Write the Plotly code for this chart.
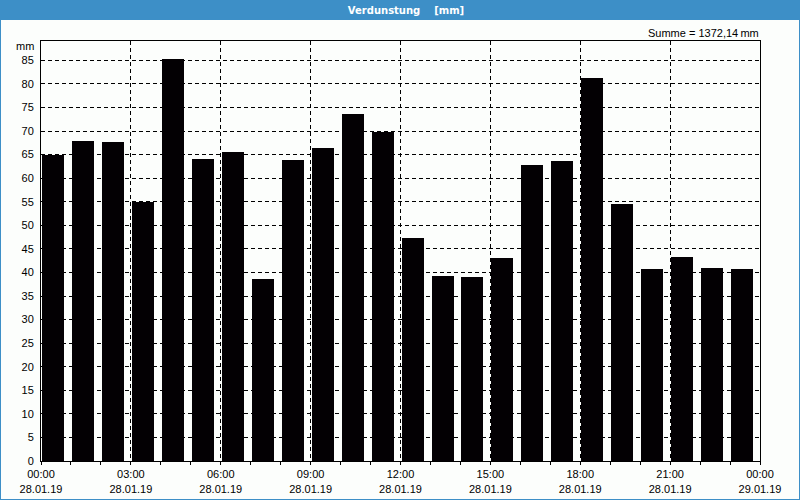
import plotly.graph_objects as go

# Data (hourly evaporation values, 28.01.19)
hours = list(range(24))
values = [64.85, 67.8, 67.6, 54.9, 85.2, 64.0, 65.5, 38.6, 63.8, 66.5, 73.7, 69.9,
          47.25, 39.3, 39.0, 43.0, 62.9, 63.6, 81.3, 54.6, 40.7, 43.3, 40.9, 40.7]
tick_hours = [0, 3, 6, 9, 12, 15, 18, 21, 24]
tick_times = ["00:00", "03:00", "06:00", "09:00", "12:00", "15:00", "18:00", "21:00", "00:00"]
tick_dates = ["28.01.19"] * 8 + ["29.01.19"]
y_ticks = list(range(0, 90, 5))
title_text = "Verdunstung\u00a0\u00a0\u00a0\u00a0[mm]"
sum_text = "Summe = 1372,14\u2009mm"

W, H = 800, 500
ml, mr, mt, mb = 41, 40, 41, 39
pw, ph = W - ml - mr, H - mt - mb
BLUE = "#3d8fc7"
BG = "#fcfefc"
FONT = "Liberation Sans, Arial, sans-serif"

fig = go.Figure()
fig.add_trace(go.Bar(
    x=hours, y=values, offset=0.035, width=0.735,
    marker=dict(color="#030003", line=dict(width=0)),
    hoverinfo="skip",
))

fig.update_layout(
    width=W, height=H, autosize=False,
    margin=dict(l=ml, r=mr, t=mt, b=mb, pad=0, autoexpand=False),
    paper_bgcolor=BG, plot_bgcolor=BG,
    showlegend=False,
    font=dict(family=FONT, size=11, color="#000000"),
    bargap=0,
    title=dict(text="<b>" + title_text + "</b>", x=406 / W, xref="container", xanchor="center",
               y=1 - 10.5 / H, yref="container", yanchor="middle",
               font=dict(family="DejaVu Sans, sans-serif", size=10, color="white")),
)

fig.update_xaxes(
    automargin=False,
    range=[0, 24], tickmode="array", tickvals=tick_hours,
    ticktext=[f"{t}<br>{d}" for t, d in zip(tick_times, tick_dates)],
    ticks="outside", ticklen=3, tickcolor="black", tickwidth=1,
    minor=dict(dtick=1, tick0=0, ticks="outside", ticklen=3, tickcolor="black", tickwidth=1, showgrid=False),
    showgrid=True, gridcolor="black", griddash="4px,3px", gridwidth=1,
    showline=True, linecolor="black", linewidth=1, mirror=True,
    zeroline=False, tickfont=dict(size=11, color="#000000"),
)
fig.update_yaxes(
    automargin=False,
    range=[0, 89.1], tickmode="array", tickvals=y_ticks, ticktext=[str(v) for v in y_ticks],
    ticks="outside", ticklen=4, tickcolor="rgba(0,0,0,0)",
    showgrid=True, gridcolor="black", griddash="4px,3px", gridwidth=1,
    showline=True, linecolor="black", linewidth=1, mirror=True,
    zeroline=False, tickfont=dict(size=11, color="#000000"),
)

def px_x(p):
    return (p - ml) / pw

def px_y(p):
    return (H - mb - p) / ph

# Title bar and blue window frame
fig.add_shape(type="rect", xref="paper", yref="paper",
              x0=px_x(0), x1=px_x(W), y0=px_y(20), y1=px_y(0),
              fillcolor=BLUE, line=dict(width=0), layer="above")
for (x0, y0, x1, y1) in [(0.5, 0, 0.5, H), (W - 0.5, 0, W - 0.5, H), (0, H - 0.5, W, H - 0.5)]:
    fig.add_shape(type="line", xref="paper", yref="paper",
                  x0=px_x(x0), x1=px_x(x1), y0=px_y(y0), y1=px_y(y1),
                  line=dict(color=BLUE, width=1), layer="above")

fig.add_annotation(text="mm", xref="paper", yref="paper", x=px_x(36), y=px_y(46.5),
                   xanchor="right", yanchor="middle", showarrow=False,
                   font=dict(size=11, color="#000000"))
fig.add_annotation(text=sum_text, xref="paper", yref="paper", x=px_x(761), y=px_y(32.5),
                   xanchor="right", yanchor="middle", showarrow=False,
                   font=dict(size=11, color="#000000"))

fig.write_html("out.html")
